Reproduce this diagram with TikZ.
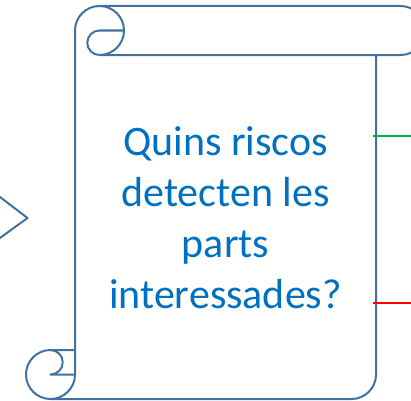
\documentclass[tikz,border=0pt]{standalone}
\usepackage{fontspec}
\setmainfont{Carlito}
\usepackage{tikz}
\usetikzlibrary{positioning}
\definecolor{scrollblue}{HTML}{41719C}
\definecolor{textblue}{HTML}{0070C0}
\definecolor{okgreen}{HTML}{00B050}
\definecolor{riskred}{HTML}{FF0000}

\begin{document}
\begin{tikzpicture}[x=1pt, y=1pt, scroll/.style={draw=scrollblue, line width=2pt, line join=round}, question/.style={text=textblue, align=center, font=\fontsize{42}{51}\selectfont, inner sep=0pt}, sheet/.style={draw=none, inner sep=0pt, minimum width=301pt, minimum height=344pt}, link/.style={line width=2pt}]

    \useasboundingbox (0,0) rectangle (411,400);
    \clip (0,0) rectangle (411,400);

    %Nodes
    \node[sheet](sheet) at (225.5,173) {};
    \node[question](ask) at (225.5,182) {Quins riscos\\detecten les\\parts\\interessades?};
    \coordinate (greenend) at (415,264);
    \coordinate (redend) at (415,97);

    %Scroll
    \draw[scroll] (50.5,1) -- (351.5,1) arc[start angle=-90, end angle=0, radius=24.5] -- (376,345);
    \draw[scroll] (99.5,345) -- (400.5,345) arc[start angle=-90, end angle=90, radius=24.5] -- (99.5,394) arc[start angle=90, end angle=180, radius=24.5] -- (75,25.5) arc[start angle=0, end angle=-270, radius=24.5] -- (75,50);
    \draw[scroll] (99.5,345) arc[start angle=-90, end angle=90, radius=24.5];
    \draw[scroll] (124,369.5) -- (99.5,369.5) arc[start angle=90, end angle=270, radius=12.25];
    \draw[scroll] (75,25.5) -- (50.5,25.5) arc[start angle=-90, end angle=90, radius=12.25];
    \draw[scroll] (-5,206.8) -- (27.5,182) -- (-5,158.4);

    %Lines
    \draw[link, okgreen] ([xshift=-3pt]sheet.east |- greenend) -- (greenend);
    \draw[link, riskred] ([xshift=-3pt]sheet.east |- redend) -- (redend);

\end{tikzpicture}
\end{document}
